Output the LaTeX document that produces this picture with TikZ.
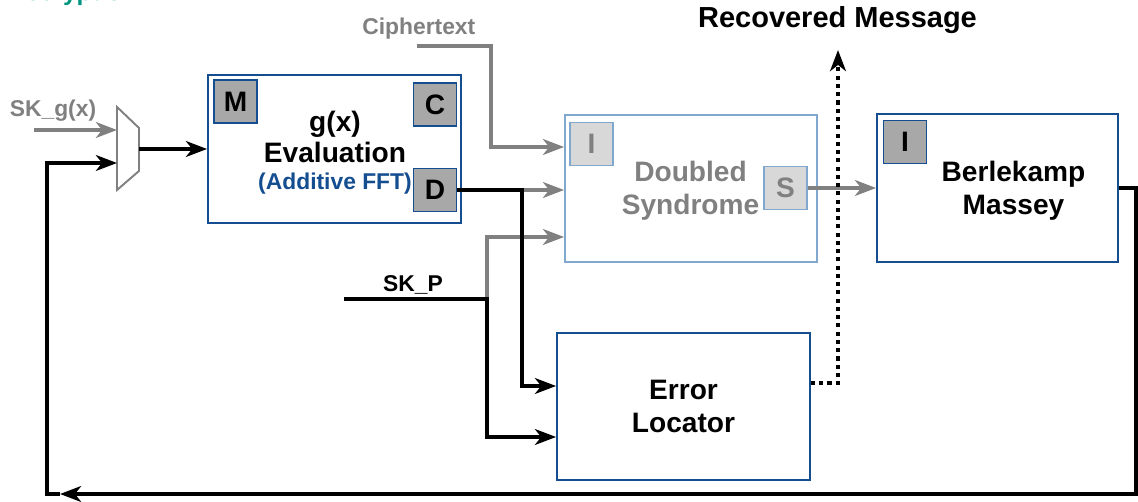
\documentclass[tikz,border=0pt]{standalone}
\usepackage{fontspec}
\setmainfont{Liberation Sans}
\usepackage{tikz}
\usetikzlibrary{arrows.meta,calc,positioning}

\definecolor{boxblue}{RGB}{20,78,145}
\definecolor{fadeblue}{RGB}{128,168,206}
\definecolor{portgray}{RGB}{168,168,168}
\definecolor{fadegray}{RGB}{216,216,216}
\definecolor{wiregray}{RGB}{128,128,128}
\definecolor{titlegreen}{RGB}{0,150,128}

\begin{document}
\begin{tikzpicture}[x=0.02cm, y=-0.02cm]
	\tikzstyle{block} = [rectangle, draw = boxblue, line width = 1.1pt, inner sep = 0pt, minimum width = 5.06cm, minimum height = 2.96cm]
	\tikzstyle{port} = [rectangle, draw = boxblue, fill = portgray, line width = 1.1pt, inner sep = 0pt, minimum size = 0.86cm, font = \fontsize{16}{19}\selectfont\bfseries]
	\tikzstyle{txt} = [inner sep = 0pt, align = center, font = \fontsize{16}{18.8}\selectfont\bfseries]
	\tikzstyle{lbl} = [inner sep = 0pt, font = \fontsize{13}{15}\selectfont\bfseries]
	\tikzstyle{wire} = [line width = 2pt, -{Stealth[length = 12pt, width = 9pt, inset = 3.5pt]}]
	\tikzstyle{gwire} = [wire, wiregray]
\useasboundingbox (0,0) rectangle (1138,502);
\clip (0,0) rectangle (1138,502);
\node[anchor = base west, inner sep = 0pt, text = titlegreen, font = \fontsize{14}{16}\selectfont\bfseries] (ttl) at (8,0.5) {Decryption};
% blocks
\node[block] (gx) at (334.5,149) {};
\node[block, draw = fadeblue, minimum width = 5.04cm, minimum height = 2.94cm] (ds) at (691,188.5) {};
\node[block, minimum width = 4.82cm] (bm) at (997.5,188) {};
\node[block, minimum height = 2.94cm] (el) at (683.5,406.5) {};
\node[port] (m) at (235.5,101.5) {M};
\node[port] (c) at (435,104.5) {C};
\node[port] (d) at (435,190) {D};
\node[port, draw = fadeblue, fill = fadegray, text = wiregray] (di) at (591.5,144) {I};
\node[port, draw = fadeblue, fill = fadegray, text = wiregray] (s) at (785.5,188) {S};
\node[port] (bi) at (905,142) {I};
\node[txt, font = \fontsize{16}{17.6}\selectfont\bfseries] (gxt) at (335,152.7) {g(x)\\Evaluation\\[-1.7pt]{\fontsize{13}{15}\selectfont\color{boxblue}(Additive FFT)}};
\node[txt, text = wiregray] (dst) at (690.5,191.2) {Doubled\\Syndrome};
\node[txt] (bmt) at (1013.5,191.2) {Berlekamp\\Massey};
\node[txt] (elt) at (683.5,406.4) {Error\\Locator};
% labels
\node[lbl, text = wiregray] (skg) at (53,110.7) {SK\_g(x)};
\node[lbl, text = wiregray] (ct) at (418.8,29) {Ciphertext};
\node[lbl] (skp) at (413,284.9) {SK\_P};
\node[txt, font = \fontsize{16.5}{19}\selectfont\bfseries] (rm) at (837.5,20.5) {Recovered Message};
% mux
\path[draw][wiregray, line width = 1.1pt] (117,107) -- (139,128) -- (139,171) -- (117,190) -- cycle;
\coordinate (mx1) at (117,130);
\coordinate (mx2) at (117,163);
\coordinate (mxo) at (139,149);
% wires
\coordinate (skgin) at (34,130);
\coordinate (ctin) at (417,46);
\coordinate (ctdn) at (491,147);
\coordinate (jd) at (522,190);
\coordinate (jp) at (487,299);
\coordinate (skpin) at (344,299);
\coordinate (sk2) at (487,237);
\coordinate (rmtip) at (838,50);
\coordinate (fbr) at (1136,494);
\coordinate (fbt) at (60,494);
\coordinate (fbl) at (47,494);
	\path[draw][gwire] (skgin) -- (mx1);
	\path[draw][wire] (mxo) -- (mxo -| gx.west);
	\path[draw][gwire] (ctin) -| (ctdn) -- (ctdn -| ds.west);
	\path[draw][gwire] (jd) -- (jd -| ds.west);
	\path[draw][gwire] (jp) -- (sk2) -- (sk2 -| ds.west);
	\path[draw][wire] (d.east) -- (jd) |- ($(el.west)+(0,-20.5)$);
	\path[draw][wire] (skpin) -- (jp) |- ($(el.west)+(0,30.5)$);
	\path[draw][gwire] (s.east) -- (bm.west);
	\path[draw][wire, line width = 2.2pt, dash pattern = on 2.3pt off 2.4pt] ($(el.east)+(0,-23.5)$) -| (rmtip);
	\path[draw][wire] (bm.east) -| (fbr) -- (fbt);
	\path[draw][wire] (fbt) -- (fbl) |- (mx2);
\end{tikzpicture}
\end{document}
